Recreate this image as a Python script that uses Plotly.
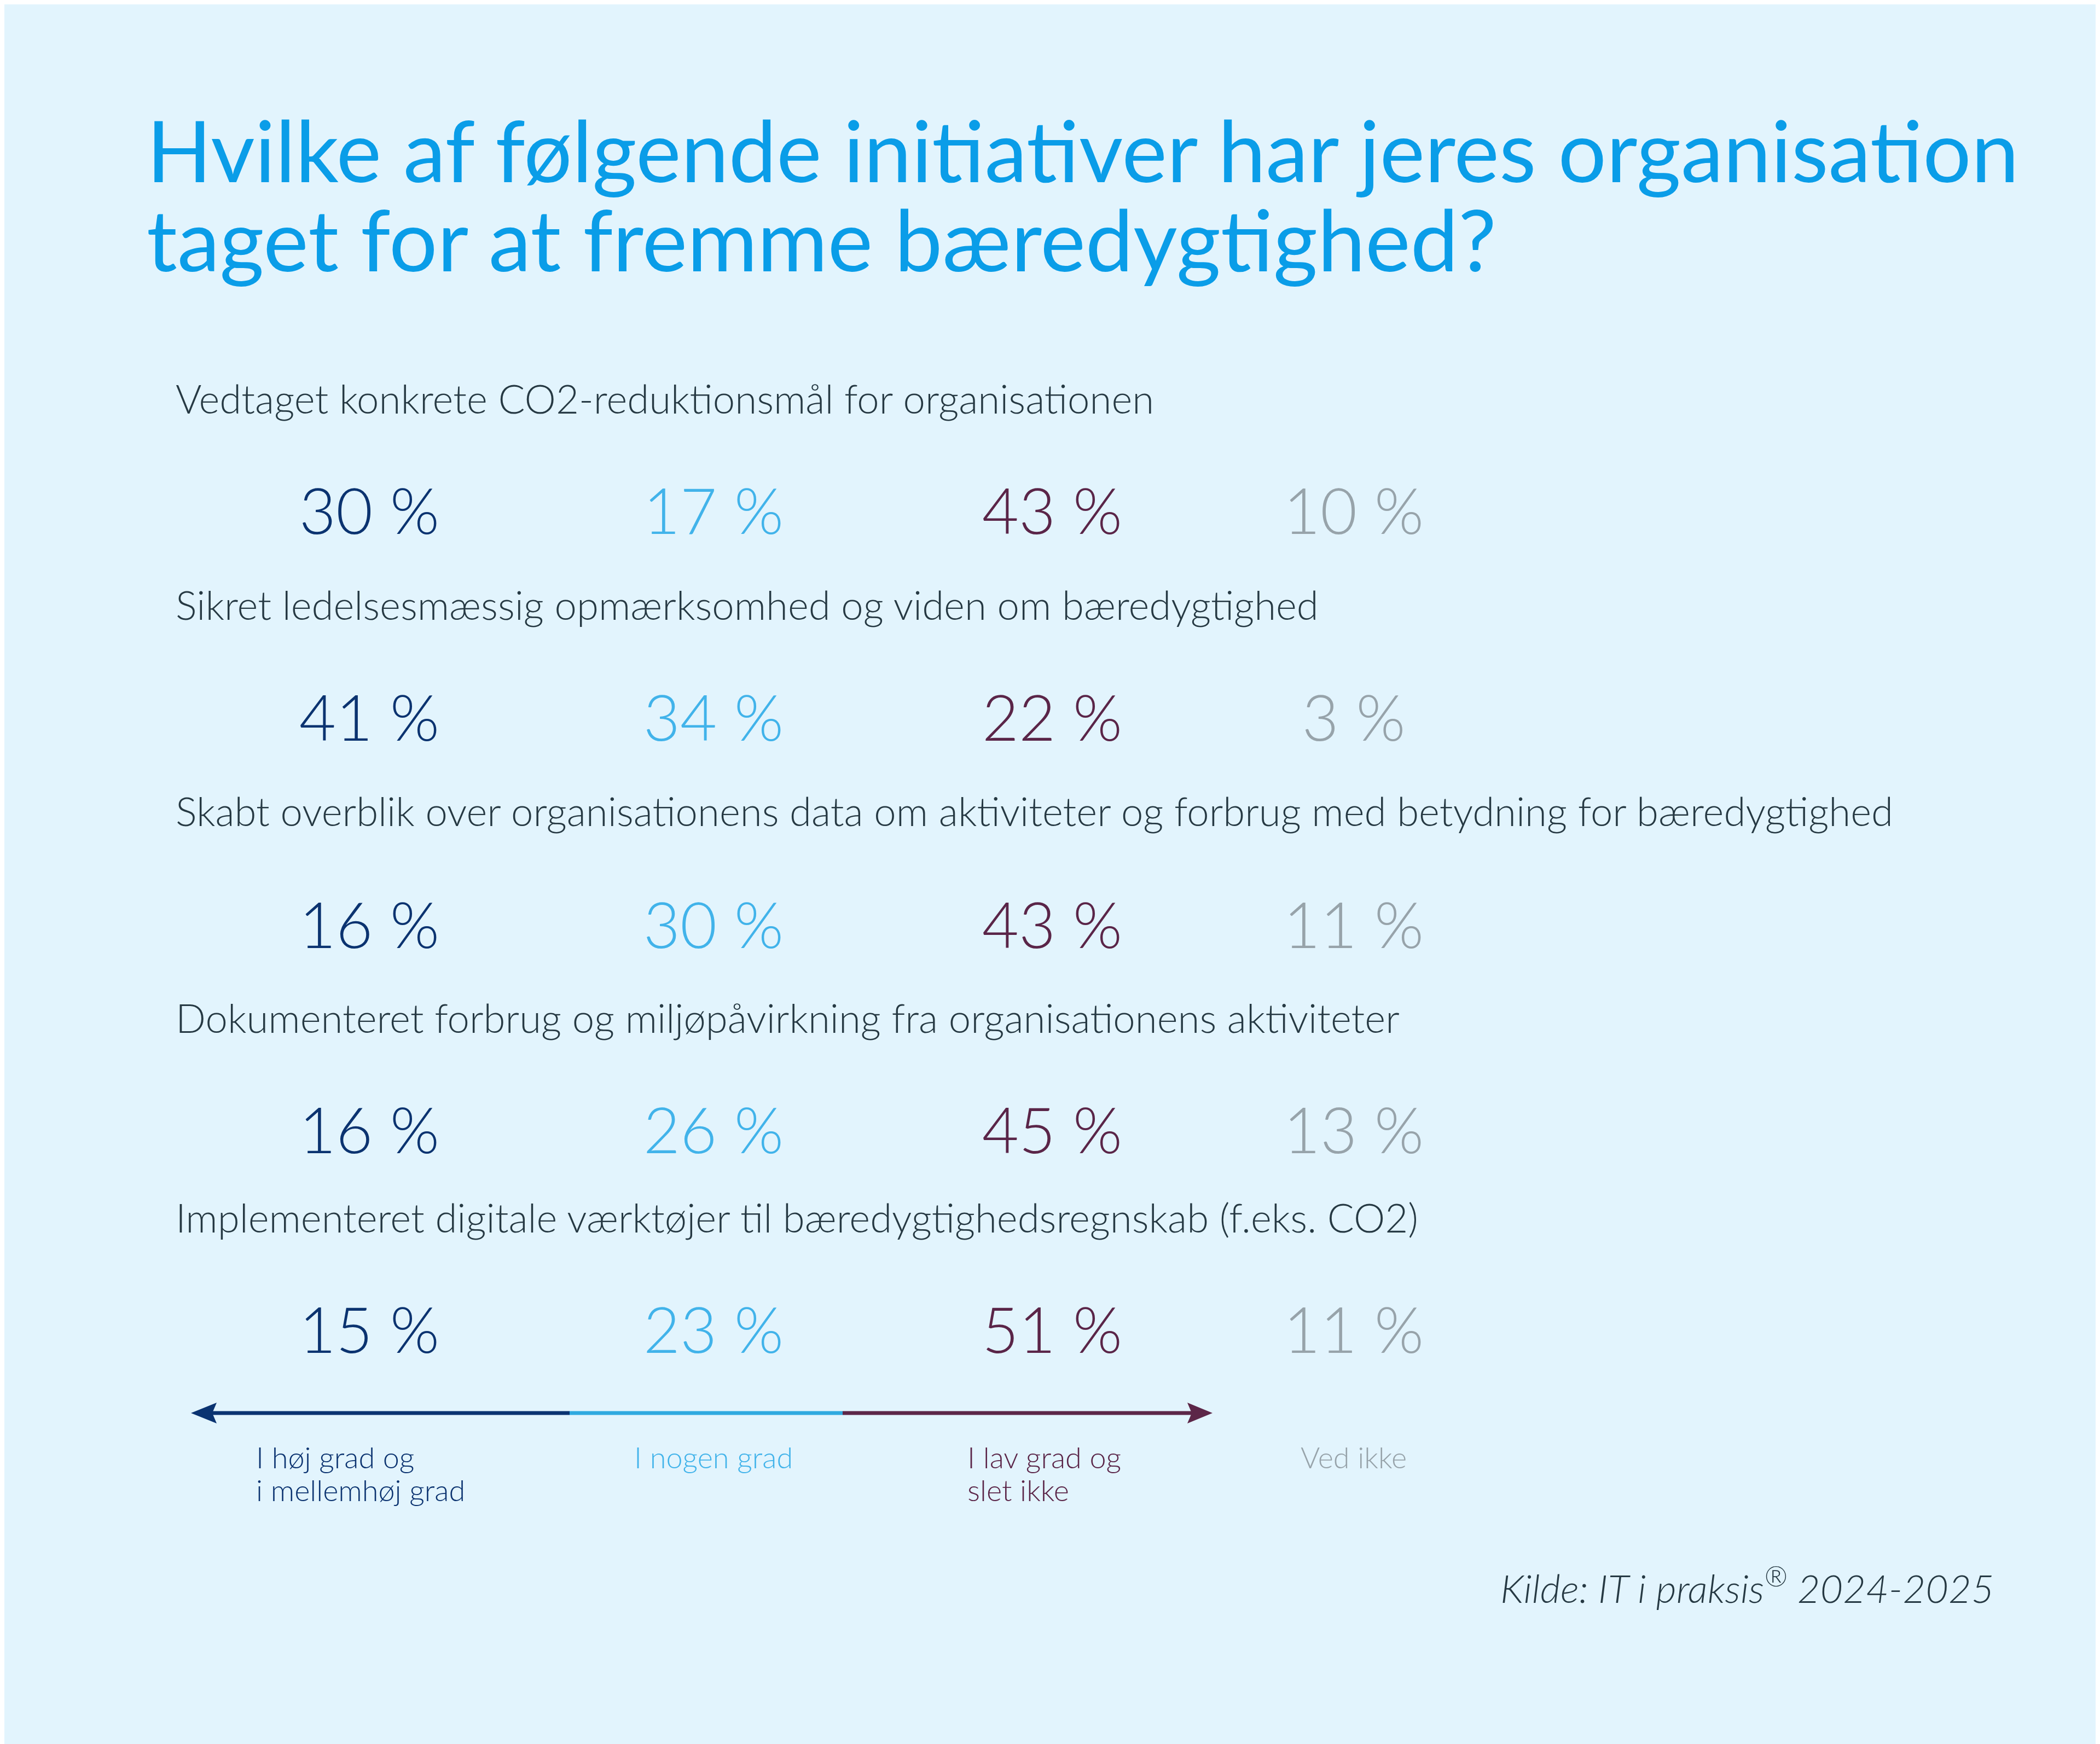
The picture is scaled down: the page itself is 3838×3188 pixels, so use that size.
import plotly.graph_objects as go

# ---------------- data ----------------
title_lines = [
    "Hvilke af følgende initiativer har jeres organisation",
    "taget for at fremme bæredygtighed?",
]
initiatives = [
    "Vedtaget konkrete CO2-reduktionsmål for organisationen",
    "Sikret ledelsesmæssig opmærksomhed og viden om bæredygtighed",
    "Skabt overblik over organisationens data om aktiviteter og forbrug med betydning for bæredygtighed",
    "Dokumenteret forbrug og miljøpåvirkning fra organisationens aktiviteter",
    "Implementeret digitale værktøjer til bæredygtighedsregnskab (f.eks. CO2)",
]
responses = [
    ["I høj grad og", "i mellemhøj grad"],
    ["I nogen grad"],
    ["I lav grad og", "slet ikke"],
    ["Ved ikke"],
]
hoej_mellemhoej = [30, 41, 16, 16, 15]
nogen = [17, 34, 30, 26, 23]
lav_slet_ikke = [43, 22, 43, 45, 51]
ved_ikke = [10, 3, 11, 13, 11]
source_text = "Kilde: IT i praksis<sup>®</sup> 2024-2025"

# ---------------- layout / style ----------------
W, H = 3838, 3188
BG = "#E2F4FD"
FONT = "Lato"
TITLE_COLOR = "#0A9DE8"
LABEL_COLOR = "#263943"
resp_colors = ["#0B3370", "#41B3EA", "#5A2548", "#97A3AA"]
arrow_colors = ["#0A3371", "#2FA9E0", "#5C2648"]

col_x = [667, 1296, 1915, 2466]
leg_left = [458, 1146, 1758, 2369]
label_base = [748, 1125, 1502, 1880, 2245]
num_base = [975, 1353, 1732, 2107, 2472]
leg_base = [2677, 2737]
label_left = 311
title_left = 258
title_base = [325, 488]

TITLE_SIZE = 156
LABEL_SIZE = 72.5
NUM_SIZE = 116
LEG_SIZE = 54
SRC_SIZE = 72
K = 0.39
K_NUM = 0.31

def mid(base, size, k=K):
    return base - k * size

fig = go.Figure()

series = [hoej_mellemhoej, nogen, lav_slet_ikke, ved_ikke]
for ci, vals in enumerate(series):
    fig.add_trace(go.Scatter(
        x=[col_x[ci]] * len(vals),
        y=[mid(b, NUM_SIZE, K_NUM) for b in num_base],
        mode="text",
        text=[f"{v} %" for v in vals],
        textposition="middle center",
        textfont=dict(family=FONT, size=NUM_SIZE, color=resp_colors[ci], weight=300),
        hoverinfo="skip",
        showlegend=False,
    ))

ann = []
for i, line in enumerate(title_lines):
    ann.append(dict(x=title_left, y=mid(title_base[i], TITLE_SIZE), text=line,
                    xanchor="left", yanchor="middle", showarrow=False,
                    font=dict(family=FONT, size=TITLE_SIZE, color=TITLE_COLOR, weight=400)))
for i, lab in enumerate(initiatives):
    ann.append(dict(x=label_left, y=mid(label_base[i], LABEL_SIZE), text=lab,
                    xanchor="left", yanchor="middle", showarrow=False,
                    font=dict(family=FONT, size=LABEL_SIZE, color=LABEL_COLOR, weight=300)))
for ci, lines in enumerate(responses):
    for li, line in enumerate(lines):
        if len(lines) > 1:
            xa, xv = "left", leg_left[ci]
        else:
            xa, xv = "center", col_x[ci]
        ann.append(dict(x=xv, y=mid(leg_base[li], LEG_SIZE), text=line,
                        xanchor=xa, yanchor="middle", showarrow=False,
                        font=dict(family=FONT, size=LEG_SIZE, color=resp_colors[ci], weight=300)))
ann.append(dict(x=3639, y=mid(2918, SRC_SIZE), text=f"<i>{source_text}</i>",
                xanchor="right", yanchor="middle", showarrow=False,
                font=dict(family=FONT, size=SRC_SIZE, color=LABEL_COLOR, weight=300)))

# arrow (decoration)
ay = 2575
seg_x = [380, 1033, 1532, 2170]
shapes = []
for i in range(3):
    shapes.append(dict(type="line", x0=seg_x[i], x1=seg_x[i + 1], y0=ay, y1=ay,
                       xref="x", yref="y", line=dict(color=arrow_colors[i], width=7)))
shapes.append(dict(type="path", xref="x", yref="y",
                   path=f"M341,{ay} L388,{ay-19} L380,{ay} L388,{ay+19} Z",
                   fillcolor=arrow_colors[0], line=dict(width=0)))
shapes.append(dict(type="path", xref="x", yref="y",
                   path=f"M2208,{ay} L2162,{ay-19} L2170,{ay} L2162,{ay+19} Z",
                   fillcolor=arrow_colors[2], line=dict(width=0)))

fig.update_layout(
    width=W, height=H,
    margin=dict(l=0, r=0, t=0, b=0),
    paper_bgcolor=BG, plot_bgcolor=BG,
    xaxis=dict(range=[0, W], visible=False, fixedrange=True),
    yaxis=dict(range=[H, 0], visible=False, fixedrange=True),
    annotations=ann,
    shapes=shapes,
    showlegend=False,
)
fig.write_html("out.html")
